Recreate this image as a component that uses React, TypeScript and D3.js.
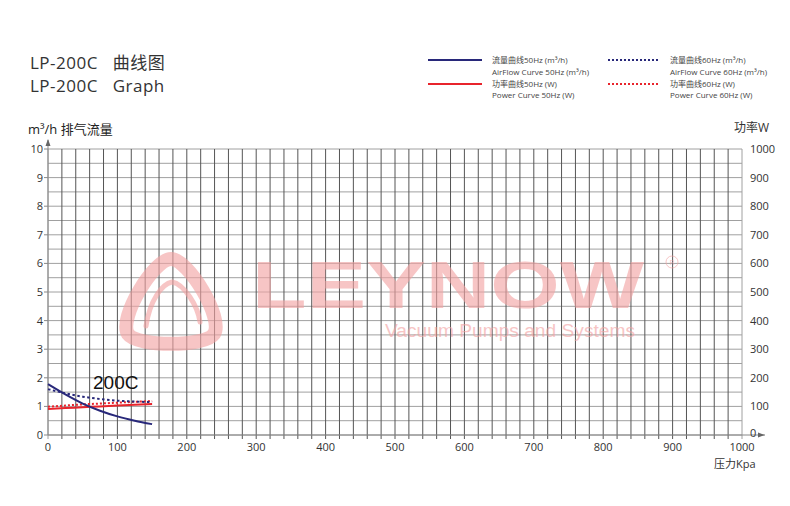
import React from 'react';
import * as d3 from 'd3';

const pressure = [0, 25, 50, 75, 100, 125, 150];
const flow50 = [1.78, 1.42, 1.1, 0.85, 0.65, 0.5, 0.38];
const flow60 = [1.6, 1.46, 1.34, 1.26, 1.2, 1.17, 1.15];
const power50 = [91, 94, 97, 100, 103, 106, 108];
const power60 = [99, 103, 107, 110, 113, 116, 119];
const xTicks = [0, 100, 200, 300, 400, 500, 600, 700, 800, 900, 1000];
const yTicks = [0, 1, 2, 3, 4, 5, 6, 7, 8, 9, 10];
const powerTicks = [0, 100, 200, 300, 400, 500, 600, 700, 800, 900, 1000];
const xGrid = d3.range(0, 1001, 20);
const yGrid = d3.range(0, 10.01, 0.5);

const NAVY = '#28287a';
const RED = '#e8242c';
const FONT = "'Open Sans', 'Noto Sans CJK SC', sans-serif";
const PINK = '#f3a3a3';

export default function App() {
  const x = d3.scaleLinear().domain([0, 1000]).range([48, 742]);
  const y = d3.scaleLinear().domain([0, 10]).range([435, 149]);
  const yP = d3.scaleLinear().domain([0, 1000]).range([435, 149]);
  const flowLine = d3.line<number>().x((_, i) => x(pressure[i])).y(d => y(d)).curve(d3.curveMonotoneX);
  const powLine = d3.line<number>().x((_, i) => x(pressure[i])).y(d => yP(d)).curve(d3.curveMonotoneX);

  return (
    <div style={{ position: 'absolute', left: 0, top: 0 }}>
      <svg width={790} height={506} style={{ display: 'block', background: '#fff' }} fontFamily={FONT}>
        {/* title */}
        <text x={30} y={69} fontSize={17} fill="#333" letterSpacing={0.5}>LP-200C{'\u00a0\u00a0\u00a0'}曲线图</text>
        <text x={30} y={92} fontSize={17} fill="#333" letterSpacing={0.5}>LP-200C{'\u00a0\u00a0\u00a0'}Graph</text>

        {/* legend */}
        <g fontSize={8} fill="#444">
          <line x1={428} x2={482} y1={60} y2={60} stroke={NAVY} strokeWidth={2} />
          <text x={492} y={63}>流量曲线50Hz (m³/h)</text>
          <text x={492} y={75}>AirFlow Curve 50Hz (m³/h)</text>
          <line x1={428} x2={482} y1={84} y2={84} stroke={RED} strokeWidth={2} />
          <text x={492} y={87}>功率曲线50Hz (W)</text>
          <text x={492} y={98}>Power Curve 50Hz (W)</text>
          <line x1={608} x2={660} y1={60} y2={60} stroke={NAVY} strokeWidth={2} strokeDasharray="2,2" />
          <text x={670} y={63}>流量曲线60Hz (m³/h)</text>
          <text x={670} y={75}>AirFlow Curve 60Hz (m³/h)</text>
          <line x1={608} x2={660} y1={84} y2={84} stroke={RED} strokeWidth={2} strokeDasharray="2,2" />
          <text x={670} y={87}>功率曲线60Hz (W)</text>
          <text x={670} y={98}>Power Curve 60Hz (W)</text>
        </g>

        {/* axis titles */}
        <text x={28} y={134} fontSize={13} fill="#222">m³/h 排气流量</text>
        <text x={734} y={132} fontSize={12} fill="#333">功率W</text>
        <text x={714} y={468} fontSize={11} fill="#333">压力Kpa</text>

        {/* grid */}
        {yGrid.map(v => (
          <line key={'h' + v} x1={x(0)} x2={x(1000)} y1={y(v)} y2={y(v)} stroke="#a0a0a0" strokeWidth={1} />
        ))}
        {xGrid.map(v => (
          <line key={'v' + v} x1={x(v)} x2={x(v)} y1={y(10)} y2={y(0) + 4}
            stroke={v === 0 || v === 1000 ? '#a0a0a0' : '#555'} strokeWidth={1} />
        ))}
        {/* axes with arrows */}
        <line x1={x(0)} x2={x(0)} y1={y(0)} y2={140} stroke="#888" strokeWidth={1} />
        <path d={`M${x(0) - 2.5},146 L${x(0)},139 L${x(0) + 2.5},146 Z`} fill="#666" />
        <line x1={x(0)} x2={765} y1={y(0)} y2={y(0)} stroke="#888" strokeWidth={1} />
        <path d={`M758,${y(0) - 2.5} L765,${y(0)} L758,${y(0) + 2.5} Z`} fill="#666" />
        {yTicks.map(v => (
          <line key={'yt' + v} x1={x(0) - 4} x2={x(0)} y1={y(v)} y2={y(v)} stroke="#888" />
        ))}

        {/* watermark */}
        <g opacity={0.62}>
          <path d="M171,259 C188,259 224,318 214,334 C205,347 137,347 128,334 C118,318 154,259 171,259 Z"
            fill="none" stroke={PINK} strokeWidth={14} strokeLinejoin="round" />
          <path d="M146,326 C150,300 162,284 172,282 C184,284 198,306 200,322"
            fill="none" stroke={PINK} strokeWidth={5} strokeLinecap="round" />
          <text x={252} y={308} fontSize={66} fontWeight="bold" fill={PINK}
            fontFamily="'Liberation Sans', Arial, sans-serif" textLength={392} lengthAdjust="spacingAndGlyphs">LEYNOW</text>
          <circle cx={672} cy={262} r={6} fill="none" stroke={PINK} strokeWidth={1} />
          <text x={672} y={265} fontSize={8} fill={PINK} textAnchor="middle">R</text>
          <text x={385} y={337} fontSize={18} fill={PINK} fontFamily="'Liberation Sans', Arial, sans-serif"
            textLength={250} lengthAdjust="spacingAndGlyphs">Vacuum Pumps and Systems</text>
        </g>

        {/* tick labels */}
        <g fontSize={11} fill="#333">
          {yTicks.map(v => (
            <text key={'yl' + v} x={43} y={y(v) + 4} textAnchor="end">{v}</text>
          ))}
          {powerTicks.map(v => (
            <text key={'pl' + v} x={750} y={yP(v) + (v === 0 ? 2 : 4)}>{v}</text>
          ))}
          {xTicks.map(v => (
            <text key={'xl' + v} x={x(v)} y={451} textAnchor="middle">{v}</text>
          ))}
        </g>

        {/* curves */}
        <path d={powLine(power60) || ''} fill="none" stroke={RED} strokeWidth={2} strokeDasharray="2,2" />
        <path d={powLine(power50) || ''} fill="none" stroke={RED} strokeWidth={2} />
        <path d={flowLine(flow60) || ''} fill="none" stroke={NAVY} strokeWidth={2} strokeDasharray="2.5,2.5" />
        <path d={flowLine(flow50) || ''} fill="none" stroke={NAVY} strokeWidth={2} />
        <text x={93} y={389} fontSize={19} fill="#111" fontFamily="'Liberation Sans', Arial, sans-serif">200C</text>
      </svg>
    </div>
  );
}
